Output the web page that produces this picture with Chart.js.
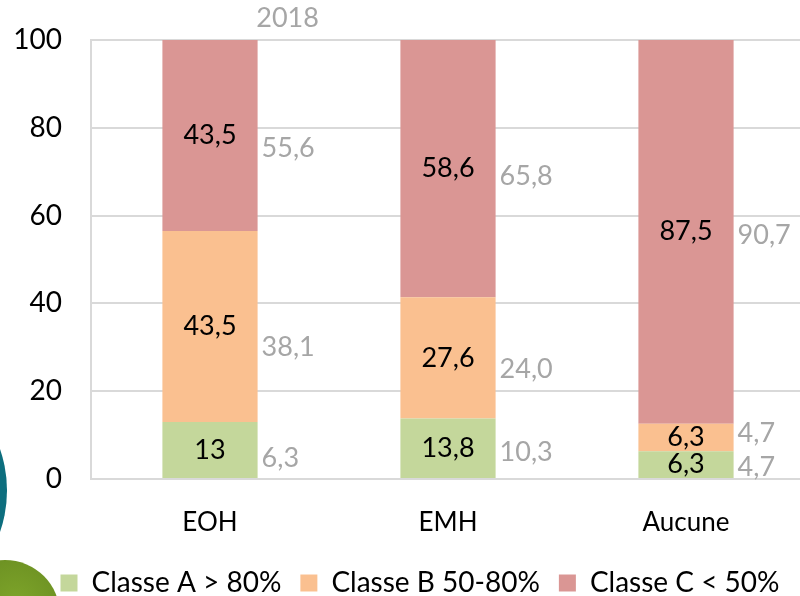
<!DOCTYPE html>
<html>
<head>
<meta charset="utf-8">
<script src="https://cdn.jsdelivr.net/npm/chart.js@4/dist/chart.umd.min.js"></script>
<style>
  html, body { margin: 0; padding: 0; background: #fff; overflow: hidden; }
  #wrap { position: relative; width: 800px; height: 596px; overflow: hidden; }
  #c { position: absolute; left: 0; top: 0; }
  .circ { position: absolute; border-radius: 50%; }
  .teal { left: -246px; top: 364px; width: 253px; height: 253px; background: #0d6e7e; }
  .green { left: -50px; top: 560px; width: 110px; height: 110px; background: radial-gradient(circle at 60% 40%, #7ea52a, #5d7f1c); }
</style>
</head>
<body>
<div id="wrap">
  <canvas id="c" width="840" height="607"></canvas>
  <div class="circ teal"></div>
  <div class="circ green"></div>
</div>
<script>
const categories = ['EOH', 'EMH', 'Aucune'];
const seriesNames = ['Classe A > 80%', 'Classe B 50-80%', 'Classe C < 50%'];
const classeA = [13, 13.8, 6.3];
const classeB = [43.5, 27.6, 6.3];
const classeC = [43.5, 58.6, 87.5];
const classeA2018 = [6.3, 10.3, 4.7];
const classeB2018 = [38.1, 24.0, 4.7];
const classeC2018 = [55.6, 65.8, 90.7];
const yearLabel = '2018';
const yTicks = [0, 20, 40, 60, 80, 100];

const FONT = 'Lato, "Open Sans", sans-serif';
const colors = ['#c4d79b', '#fac090', '#da9694'];
const GRAY = '#a6a6a6';

function fmt(v) { return (Number.isInteger(v) ? String(v) : v.toFixed(1)).replace('.', ','); }
function fmt1(v) { return v.toFixed(1).replace('.', ','); }

// let the y tick labels use the left margin (label clip area starts at canvas edge)
const widenYLabels = {
  id: 'widenYLabels',
  afterLayout(chart) { chart.scales.y.left = 0; }
};

const labelPlugin = {
  id: 'labels',
  afterDatasetsDraw(chart) {
    const ctx = chart.ctx;
    const ys = chart.scales.y;
    ctx.save();
    ctx.font = '27px ' + FONT;
    ctx.textBaseline = 'middle';
    ctx.textAlign = 'center';
    ctx.fillStyle = '#000';
    chart.data.datasets.forEach((ds, di) => {
      const meta = chart.getDatasetMeta(di);
      meta.data.forEach((el, i) => {
        ctx.fillText(fmt(ds.data[i]), el.x, (el.y + el.base) / 2);
      });
    });
    // 2018 comparison labels
    const cur = [classeA, classeB, classeC];
    const old = [classeA2018, classeB2018, classeC2018];
    ctx.fillStyle = GRAY;
    ctx.textAlign = 'left';
    const meta0 = chart.getDatasetMeta(0);
    categories.forEach((c, i) => {
      const el = meta0.data[i];
      const right = el.x + el.width / 2;
      let baseCur = 0, baseOld = 0, prevY = null;
      for (let s = 0; s < 3; s++) {
        const cCur = baseCur + cur[s][i] / 2;
        const cOld = baseOld + old[s][i] / 2;
        baseCur += cur[s][i];
        baseOld += old[s][i];
        let y = ys.getPixelForValue((cCur + cOld) / 2);
        if (prevY !== null && prevY - y < 34) y = prevY - 34;
        prevY = y;
        ctx.fillText(fmt1(old[s][i]), right + 4, y);
      }
      if (i === 0) {
        ctx.textAlign = 'center';
        ctx.fillText(yearLabel, right + 30, chart.chartArea.top - 22);
        ctx.textAlign = 'left';
      }
    });
    ctx.restore();
  }
};

new Chart(document.getElementById('c'), {
  type: 'bar',
  data: {
    labels: categories,
    datasets: [
      { label: seriesNames[0], data: classeA, backgroundColor: colors[0] },
      { label: seriesNames[1], data: classeB, backgroundColor: colors[1] },
      { label: seriesNames[2], data: classeC, backgroundColor: colors[2] }
    ]
  },
  options: {
    responsive: false,
    animation: false,
    layout: { padding: { top: 40, right: 35, left: 35, bottom: 0 } },
    datasets: { bar: { categoryPercentage: 1, barPercentage: 0.4 } },
    scales: {
      x: {
        stacked: true,
        grid: { display: false },
        border: { display: false },
        ticks: { color: '#000', font: { family: FONT, size: 26 }, padding: 20 },
        afterFit(s) { s.height = 71; }
      },
      y: {
        stacked: true,
        min: 0, max: 100,
        afterBuildTicks(s) { s.ticks = yTicks.map(v => ({ value: v })); },
        grid: { color: '#d9d9d9', lineWidth: 2, drawTicks: false },
        border: { display: true, color: '#d9d9d9', width: 2 },
        ticks: { color: '#000', font: { family: FONT, size: 28 }, padding: 29 },
        afterFit(s) { s.width = 56; s.paddingTop = 0; s.paddingBottom = 0; s.paddingLeft = 0; }
      }
    },
    plugins: {
      legend: {
        position: 'bottom',
        labels: {
          boxWidth: 17, boxHeight: 17, padding: 19,
          color: '#000', font: { family: FONT, size: 28 }
        }
      },
      tooltip: { enabled: false }
    }
  },
  plugins: [widenYLabels, labelPlugin]
});
</script>
</body>
</html>
